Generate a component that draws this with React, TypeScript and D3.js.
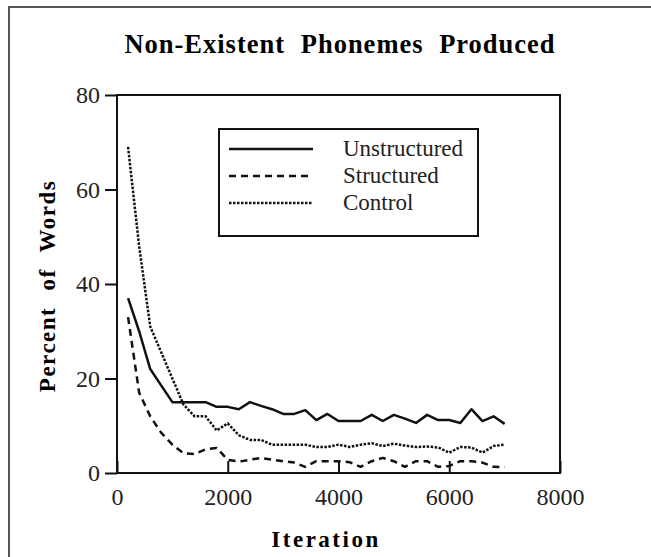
import React, { useEffect, useRef } from 'react'
import { axisBottom, axisLeft, line, scaleLinear, select } from 'd3'

// iterations sampled every 200 steps
const iterations = [
  200, 400, 600, 800, 1000, 1200, 1400, 1600, 1800, 2000, 2200, 2400, 2600, 2800, 3000, 3200, 3400,
  3600, 3800, 4000, 4200, 4400, 4600, 4800, 5000, 5200, 5400, 5600, 5800, 6000, 6200, 6400, 6600,
  6800, 7000,
]

const unstructured = [
  37, 30, 22, 18.5, 15, 15, 15, 15, 14, 14, 13.5, 15, 14.2, 13.5, 12.5, 12.5, 13.3, 11.2, 12.5, 11,
  11, 11, 12.3, 11, 12.3, 11.5, 10.6, 12.3, 11.2, 11.2, 10.6, 13.5, 11, 12, 10.4,
]

const structured = [
  33, 17, 12, 8.5, 6, 4.2, 4, 5, 5.3, 2.8, 2.4, 2.8, 3.2, 2.8, 2.5, 2.2, 1.3, 2.5, 2.5, 2.5, 2.3,
  1.3, 2.5, 3.2, 2.5, 1.3, 2.5, 2.5, 1.3, 1.5, 2.5, 2.5, 2.2, 1.3, 1.2,
]

const control = [
  69, 48, 31, 25.5, 20, 14.5, 12, 12, 9, 10.5, 8, 7, 7, 6, 6, 6, 6, 5.5, 5.5, 6, 5.5, 6, 6.3, 5.7,
  6.2, 5.8, 5.5, 5.6, 5.4, 4.3, 5.5, 5.4, 4.3, 5.7, 6,
]

const seriesNames = ['Unstructured', 'Structured', 'Control']
const xTicks = [0, 2000, 4000, 6000, 8000]
const yTicks = [0, 20, 40, 60, 80]

const dashes = ['none', '7,5', '2.5,1.5']
const font = '"Liberation Serif", "Times New Roman", serif'

export default function App() {
  const svgRef = useRef<SVGSVGElement>(null)

  useEffect(() => {
    const svg = select(svgRef.current)
    svg.selectAll('*').remove()

    const left = 117, right = 560, top = 95, bottom = 473

    const x = scaleLinear().domain([0, 8000]).range([left, right])
    const y = scaleLinear().domain([0, 80]).range([bottom, top])

    // outer figure border (only top and left survive the crop)
    svg.append('path')
      .attr('d', 'M9,557V7H651')
      .attr('fill', 'none')
      .attr('stroke', '#555')
      .attr('stroke-width', 2)

    svg.append('text')
      .attr('x', 340).attr('y', 53)
      .attr('text-anchor', 'middle')
      .attr('font-family', font)
      .attr('font-weight', 'bold')
      .attr('font-size', 26.5)
      .attr('letter-spacing', 1)
      .attr('word-spacing', 8)
      .text('Non-Existent Phonemes Produced')

    // plot frame
    svg.append('rect')
      .attr('x', left).attr('y', top)
      .attr('width', right - left).attr('height', bottom - top)
      .attr('fill', 'none')
      .attr('stroke', '#111')
      .attr('stroke-width', 2)

    const yAxis = svg.append('g')
      .attr('transform', `translate(${left},0)`)
      .call(axisLeft(y).tickValues(yTicks).tickSize(12).tickPadding(5))
    yAxis.select('.domain').remove()

    const xAxis = svg.append('g')
      .attr('transform', `translate(0,${bottom})`)
      .call(axisBottom(x).tickValues(xTicks).tickFormat((d) => String(d)).tickSizeInner(-12).tickSizeOuter(0).tickPadding(15))
    xAxis.select('.domain').remove()

    svg.selectAll('.tick line').attr('stroke', '#111').attr('stroke-width', 2)
    svg.selectAll('.tick text')
      .attr('font-family', font)
      .attr('font-size', 24)
      .attr('fill', '#222')

    svg.append('text')
      .attr('transform', 'translate(55,286) rotate(-90)')
      .attr('text-anchor', 'middle')
      .attr('font-family', font)
      .attr('font-weight', 'bold')
      .attr('font-size', 23)
      .attr('letter-spacing', 1.5)
      .attr('word-spacing', 9)
      .text('Percent of Words')

    svg.append('text')
      .attr('x', 326).attr('y', 547)
      .attr('text-anchor', 'middle')
      .attr('font-family', font)
      .attr('font-weight', 'bold')
      .attr('font-size', 23)
      .attr('letter-spacing', 2.5)
      .text('Iteration')

    const lineGen = line<number>()
      .x((_, i) => x(iterations[i]))
      .y((d) => y(d))

    const series = [unstructured, structured, control]
    series.forEach((s, i) => {
      svg.append('path')
        .datum(s)
        .attr('d', lineGen)
        .attr('fill', 'none')
        .attr('stroke', '#111')
        .attr('stroke-width', 2.5)
        .attr('stroke-dasharray', dashes[i])
        .attr('stroke-linejoin', 'round')
    })

    // legend
    const legend = svg.append('g')
    legend.append('rect')
      .attr('x', 219).attr('y', 129)
      .attr('width', 259).attr('height', 107)
      .attr('fill', 'white')
      .attr('stroke', '#111')
      .attr('stroke-width', 2)
    seriesNames.forEach((name, i) => {
      const ly = 149 + i * 27
      legend.append('line')
        .attr('x1', 229).attr('x2', 313)
        .attr('y1', ly).attr('y2', ly)
        .attr('stroke', '#111')
        .attr('stroke-width', 2.5)
        .attr('stroke-dasharray', dashes[i])
      legend.append('text')
        .attr('x', 343).attr('y', ly + 7)
        .attr('font-family', font)
        .attr('font-size', 23)
        .attr('fill', '#222')
        .text(name)
    })
  }, [])

  return (
    <svg
      ref={svgRef}
      width={651}
      height={557}
      style={{ position: 'absolute', left: 0, top: 0, background: 'white' }}
    />
  )
}
